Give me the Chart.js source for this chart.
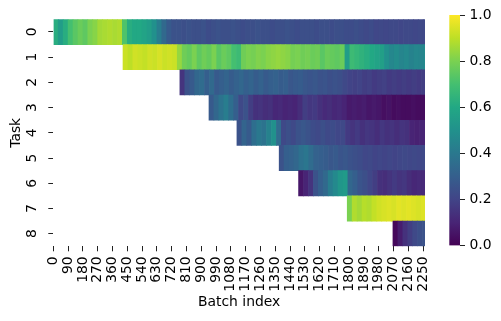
<!DOCTYPE html>
<html><head><meta charset="utf-8">
<script src="https://cdn.jsdelivr.net/npm/chart.js@4.4.1/dist/chart.umd.min.js"></script>
<style>
html,body{margin:0;padding:0;background:#fff;}
#wrap{position:relative;width:501px;height:321px;}
canvas{position:absolute;left:0;top:0;}
</style>
</head><body>
<div id="wrap"><canvas id="main" width="501" height="321"></canvas><canvas id="cbar" width="501" height="321"></canvas></div>
<script>
// ---- data ----
const taskLabels = ['0','1','2','3','4','5','6','7','8'];
const taskStarts = [0, 424, 770, 947, 1117, 1374, 1492, 1788, 2066];
const totalBatches = 2261;
const binSize = 30;
const task0 = [0.62,0.55,0.62,0.70,0.74,0.77,0.75,0.80,0.82,0.86,0.87,0.88,0.87,0.88,0.72,
  0.62,0.60,0.60,0.58,0.55,0.50,0.42,0.34,0.28,0.25,
  0.25,0.24,0.25,0.24,0.24,0.25,0.23,0.24,0.25,0.24,
  0.24,0.25,0.24,0.23,0.24,0.24,0.25,0.24,0.24,0.23,
  0.24,0.24,0.25,0.24,0.23,0.24,0.24,0.24,0.23,0.24,
  0.24,0.23,0.24,0.24,0.23,0.23,0.24,0.23,0.22,0.23,
  0.21,0.22,0.21,0.22,0.22,0.21,0.22,0.22,0.21,0.22,0.22];
const task1 = [0.92,0.90,0.93,0.92,0.91,0.93,0.92,0.94,0.92,0.93,0.92,
  0.84,0.78,0.76,0.80,0.75,0.78,0.76,0.80,0.74,0.77,0.75,
  0.70,0.68,0.78,0.80,0.79,0.81,0.80,0.82,0.83,0.84,0.83,0.82,0.79,0.80,0.78,0.79,0.77,0.78,0.74,0.77,0.76,0.75,0.77,
  0.55,0.68,0.66,0.64,0.62,0.60,0.58,0.56,0.50,0.46,0.48,0.45,0.47,0.44,0.46,0.45,0.47];
const task2 = [0.15,0.25,0.28,0.33,0.35,0.30,0.34,0.28,0.30,0.32,
  0.29,0.31,0.33,0.30,0.32,0.29,0.31,0.28,0.30,0.31,
  0.29,0.30,0.27,0.28,0.29,0.27,0.26,0.27,0.25,0.26,
  0.24,0.25,0.24,0.22,0.20,0.19,0.20,0.18,0.19,0.17,
  0.18,0.19,0.17,0.18,0.17,0.18,0.17,0.18,0.17,0.18];
const task3 = [0.28,0.33,0.38,0.42,0.36,0.30,0.22,0.25,0.18,0.14,
  0.15,0.13,0.14,0.11,0.12,0.10,0.11,0.10,0.13,0.18,
  0.16,0.17,0.14,0.12,0.13,0.11,0.12,0.10,0.07,0.08,
  0.07,0.08,0.06,0.07,0.06,0.04,0.05,0.03,0.04,0.03,
  0.03,0.04,0.03,0.03];
const task4 = [0.25,0.32,0.28,0.36,0.40,0.38,0.44,0.50,0.35,0.22,
  0.24,0.22,0.25,0.27,0.25,0.23,0.22,0.24,0.22,0.23,
  0.21,0.22,0.17,0.15,0.17,0.14,0.16,0.15,0.13,0.16,
  0.14,0.15,0.13,0.15,0.14,0.10,0.09,0.10,0.10];
const task5 = [0.25,0.30,0.31,0.33,0.37,0.39,0.35,0.31,0.30,0.29,
  0.27,0.28,0.26,0.27,0.25,0.24,0.23,0.21,0.22,0.20,
  0.21,0.20,0.21,0.20,0.21,0.22,0.21,0.22,0.21,0.22];
const task6 = [0.06,0.10,0.15,0.25,0.30,0.34,0.42,0.47,0.52,0.54,
  0.33,0.30,0.26,0.24,0.21,0.18,0.14,0.13,0.15,0.17,
  0.15,0.16,0.13,0.11,0.12,0.12];
const task7 = [0.80,0.88,0.86,0.89,0.88,0.91,0.93,0.94,0.95,0.94,0.96,0.95,0.96,0.95,0.94,0.95];
const task8 = [0.02,0.08,0.14,0.18,0.22,0.24,0.25];
const xTickLabels = [0,90,180,270,360,450,540,630,720,810,900,990,1080,1170,1260,1350,1440,1530,1620,1710,1800,1890,1980,2070,2160,2250];
const cbTicks = [0.0,0.2,0.4,0.6,0.8,1.0];

// ---- viridis colour map ----
const viridisStops = ['#440154','#482475','#414487','#355f8d','#2a788e','#21918c','#22a884','#44bf70','#7ad151','#bddf26','#fde725'];
function hex2rgb(h){return [parseInt(h.slice(1,3),16),parseInt(h.slice(3,5),16),parseInt(h.slice(5,7),16)];}
const viridisRGB = viridisStops.map(hex2rgb);
function viridis(v){
  v = Math.max(0, Math.min(1, v));
  const p = v * (viridisRGB.length - 1);
  const i = Math.min(Math.floor(p), viridisRGB.length - 2);
  const f = p - i;
  const a = viridisRGB[i], b = viridisRGB[i+1];
  return 'rgb(' + [0,1,2].map(k => Math.round(a[k] + (b[k]-a[k])*f)).join(',') + ')';
}

const rows = [task0,task1,task2,task3,task4,task5,task6,task7,task8];
const cells = [];
rows.forEach((vals, r) => {
  vals.forEach((v, j) => {
    const s = taskStarts[r] + j * binSize;
    if (s >= totalBatches) return;
    const e = Math.min(s + binSize, totalBatches);
    cells.push({x: [s, e], y: taskLabels[r], v: v});
  });
});

Chart.defaults.font.family = "'DejaVu Sans', sans-serif";
Chart.defaults.font.size = 13.9;
Chart.defaults.color = '#000';

new Chart(document.getElementById('main'), {
  type: 'bar',
  data: {
    labels: taskLabels,
    datasets: [{
      data: cells,
      backgroundColor: ctx => viridis(ctx.raw ? ctx.raw.v : 0),
      borderWidth: 0,
      barPercentage: 1,
      categoryPercentage: 1,
      grouped: false
    }]
  },
  options: {
    indexAxis: 'y',
    responsive: false,
    animation: false,
    events: [],
    layout: {padding: {left: 0, right: 76, top: 15, bottom: 0}},
    plugins: {legend: {display: false}, tooltip: {enabled: false}},
    scales: {
      x: {
        type: 'linear', min: 0, max: totalBatches,
        afterBuildTicks: s => { s.ticks = xTickLabels.map(v => ({value: v})); },
        ticks: {minRotation: 90, maxRotation: 90, autoSkip: false, padding: 5, callback: v => String(v)},
        grid: {drawOnChartArea: false, drawTicks: true, tickLength: 5, color: '#222', lineWidth: 1},
        border: {display: false},
        title: {display: true, text: 'Batch index', padding: {top: 0, bottom: 10.5}},
        afterFit: s => { s.height = 74.7; }
      },
      y: {
        type: 'category', offset: true,
        grid: {offset: false, drawOnChartArea: false, drawTicks: true, tickLength: 5, color: '#222', lineWidth: 1},
        border: {display: false},
        ticks: {minRotation: 90, maxRotation: 90, crossAlign: 'center', padding: 11, autoSkip: false},
        title: {display: true, text: 'Task', padding: {top: 8, bottom: 0}},
        afterFit: s => { s.width = 53.3; }
      }
    }
  }
});

new Chart(document.getElementById('cbar'), {
  type: 'bar',
  data: {
    labels: [''],
    datasets: [{
      data: [[cbTicks[0], cbTicks[cbTicks.length-1]]],
      backgroundColor: ctx => {
        const ca = ctx.chart.chartArea;
        if (!ca) return '#888';
        const g = ctx.chart.ctx.createLinearGradient(0, ca.bottom, 0, ca.top);
        viridisStops.forEach((c, i) => g.addColorStop(i / (viridisStops.length - 1), c));
        return g;
      },
      borderWidth: 0,
      barPercentage: 1,
      categoryPercentage: 1
    }]
  },
  options: {
    responsive: false,
    animation: false,
    events: [],
    layout: {padding: {left: 449.3, right: 0, top: 15, bottom: 75.3}},
    plugins: {legend: {display: false}, tooltip: {enabled: false}},
    scales: {
      x: {display: false},
      y: {
        position: 'right', min: 0, max: 1,
        afterBuildTicks: s => { s.ticks = cbTicks.map(v => ({value: v})); },
        ticks: {padding: 4.5, callback: v => Number(v).toFixed(1)},
        grid: {drawOnChartArea: false, drawTicks: true, tickLength: 5, color: '#222', lineWidth: 1},
        border: {display: false},
        afterFit: s => { s.width = 501 - 460; }
      }
    }
  }
});
</script>
</body></html>
